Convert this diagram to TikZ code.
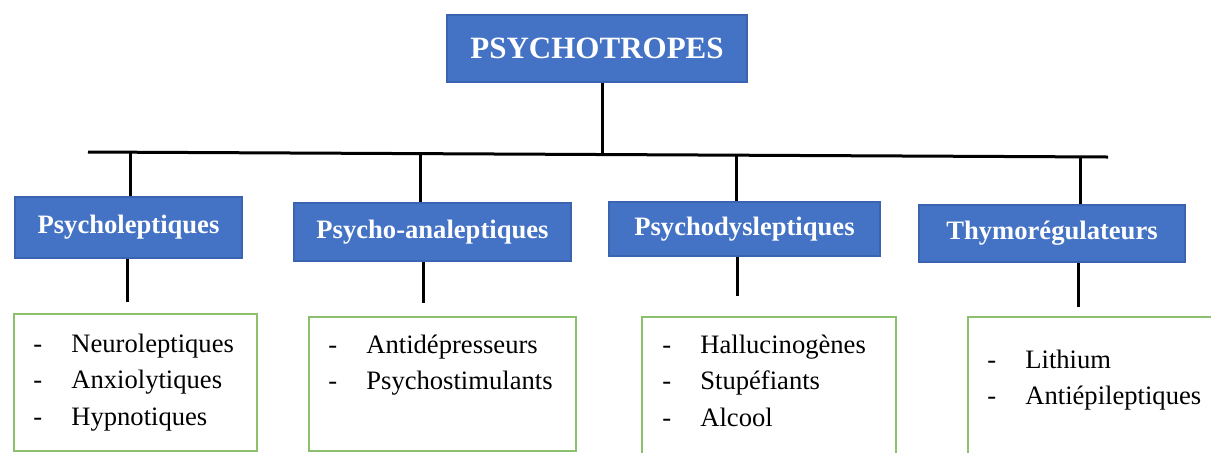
\documentclass[tikz,border=0pt]{standalone}
\usepackage{fontspec}
\setmainfont{Liberation Serif}
\definecolor{psyblue}{HTML}{4472C4}
\definecolor{psyedge}{HTML}{3B64B0}
\definecolor{psygreen}{HTML}{8DC06C}
\newcommand{\itm}{\makebox[19pt][l]{-}}
\begin{document}
\begin{tikzpicture}[x=0.5pt, y=-0.5pt,
  head/.style={rectangle, fill=psyblue, draw=psyedge, line width=0.6pt, text=white, inner sep=0pt, font=\fontsize{13.3}{16}\selectfont\bfseries},
  listbox/.style={rectangle, draw=psygreen, line width=1pt, fill=white, inner sep=0pt, anchor=north west},
  items/.style={anchor=base west, inner sep=0pt, font=\fontsize{13.3}{18.25}\selectfont},
  link/.style={line width=1.5pt}]
\clip (0,0) rectangle (1211,452);
\fill[white] (0,0) rectangle (1211,452);
% top and categories
\node[head, minimum width=150pt, minimum height=33.5pt, font=\fontsize{15.5}{18}\selectfont\bfseries] (top) at (597,48.5) {PSYCHOTROPES};
\node[head, minimum width=113.5pt, minimum height=30.5pt] (cat1) at (128.5,227.5) {Psycholeptiques};
\node[head, minimum width=138.5pt, minimum height=29pt] (cat2) at (432.5,232) {Psycho-analeptiques};
\node[head, minimum width=135.5pt, minimum height=27pt] (cat3) at (744.5,229) {Psychodysleptiques};
\node[head, minimum width=133pt, minimum height=28.5pt] (cat4) at (1052,233.5) {Thymorégulateurs};
% lists
\node[listbox, minimum width=121.5pt, minimum height=68.5pt] (list1) at (13,313) {};
\node[listbox, minimum width=133.5pt, minimum height=67pt] (list2) at (308,316) {};
\node[listbox, minimum width=127pt, minimum height=80pt] (list3) at (641,316) {};
\node[listbox, minimum width=140pt, minimum height=80pt] (list4) at (967,316) {};
\node[items] (items1) at (33,352) {\begin{tabular}[t]{@{}l@{}}\itm Neuroleptiques\\\itm Anxiolytiques\\\itm Hypnotiques\end{tabular}};
\node[items] (items2) at (328,353) {\begin{tabular}[t]{@{}l@{}}\itm Antidépresseurs\\\itm Psychostimulants\end{tabular}};
\node[items] (items3) at (662,353) {\begin{tabular}[t]{@{}l@{}}\itm Hallucinogènes\\\itm Stupéfiants\\\itm Alcool\end{tabular}};
\node[items] (items4) at (987,368) {\begin{tabular}[t]{@{}l@{}}\itm Lithium\\\itm Antiépileptiques\end{tabular}};
% connectors
\coordinate (busL) at (88,152);
\coordinate (busR) at (1108,157);
\draw[link](busL) -- (busR);
\coordinate (b0) at (602,154.5);
\draw[link](b0 |- top.south) -- (b0);
\coordinate (b1) at (130,152.2);
\coordinate (b2) at (420,153.6);
\coordinate (b3) at (736,155.2);
\coordinate (b4) at (1080,156.9);
\draw[link](b1) -- (b1 |- cat1.north);
\draw[link](b2) -- (b2 |- cat2.north);
\draw[link](b3) -- (b3 |- cat3.north);
\draw[link](b4) -- (b4 |- cat4.north);
\coordinate (d1) at (127,302);
\coordinate (d2) at (423,303);
\coordinate (d3) at (737,296);
\coordinate (d4) at (1078,307);
\draw[link](d1 |- cat1.south) -- (d1);
\draw[link](d2 |- cat2.south) -- (d2);
\draw[link](d3 |- cat3.south) -- (d3);
\draw[link](d4 |- cat4.south) -- (d4);
\end{tikzpicture}
\end{document}
